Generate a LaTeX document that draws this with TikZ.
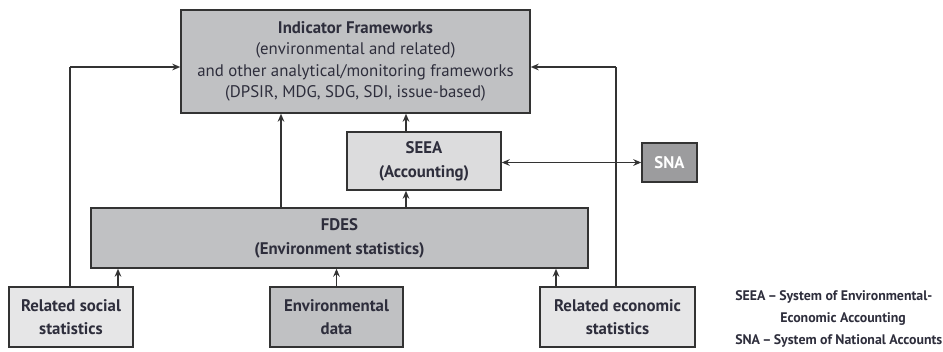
\documentclass[tikz,border=0pt]{standalone}
\usepackage{fontspec}
\setmainfont{PT Sans}
\usetikzlibrary{arrows.meta}
\definecolor{ink}{HTML}{2E2E3C}
\definecolor{edge}{HTML}{333333}
\definecolor{midgrey}{HTML}{C0C1C3}
\definecolor{lightgrey}{HTML}{DCDCDD}
\definecolor{palegrey}{HTML}{E6E6E7}
\definecolor{darkgrey}{HTML}{9C9C9E}
\tikzset{
  box/.style={draw=edge, line width=1.1pt, inner sep=0pt, text=ink, align=center,
    font=\fontsize{12.6}{16}\selectfont\bfseries},
  link/.style={draw=edge, line width=1pt, -{Stealth[length=6pt,width=5pt]}},
  plain/.style={draw=edge, line width=1pt},
  legend/.style={anchor=west, text=ink, inner sep=0pt, font=\fontsize{10.4}{12}\selectfont\bfseries},
}
\begin{document}
\begin{tikzpicture}[x=0.75pt,y=-0.75pt]
\useasboundingbox (0,0) rectangle (943,351);
% boxes
\node[box, fill=midgrey, minimum width=349*0.75pt, minimum height=103*0.75pt] (ind) at (355.5,61.5)
  {Indicator Frameworks\\
   {\mdseries (environmental and related)}\\
   {\mdseries and other analytical/monitoring frameworks}\\
   {\mdseries (DPSIR, MDG, SDG, SDI, issue-based)}};
\node[box, fill=lightgrey, minimum width=154*0.75pt, minimum height=58*0.75pt] (seea) at (424,161) {SEEA\\[2pt](Accounting)};
\node[box, fill=darkgrey, text=white, minimum width=55*0.75pt, minimum height=39*0.75pt] (sna) at (669.5,162.5) {SNA};
\node[box, fill=midgrey, minimum width=497*0.75pt, minimum height=60*0.75pt] (fdes) at (339.5,238) {FDES\\[2pt](Environment statistics)};
\node[box, fill=palegrey, minimum width=124*0.75pt, minimum height=60*0.75pt] (soc) at (71,317) {Related social\\[1pt]statistics};
\node[box, fill=midgrey, minimum width=133*0.75pt, minimum height=60*0.75pt] (env) at (336.5,317) {Environmental\\[1pt]data};
\node[box, fill=palegrey, minimum width=155*0.75pt, minimum height=60*0.75pt] (eco) at (617.5,317) {Related economic\\[1pt]statistics};
% connectors
\draw[link] (soc.north -| 118,0) -- (fdes.south -| 118,0);
\draw[link] (env.north) -- (fdes.south -| env.north);
\draw[link] (eco.north -| 556,0) -- (fdes.south -| 556,0);
\draw[link] (fdes.north -| 281,0) -- (ind.south -| 281,0);
\draw[link] (fdes.north -| 406,0) -- (seea.south -| 406,0);
\draw[link] (seea.north -| 406,0) -- (ind.south -| 406,0);
\draw[link, {Stealth[length=6pt,width=5pt]}-{Stealth[length=6pt,width=5pt]}] (seea.east |- sna.west) -- (sna.west);
\coordinate (lbend) at (70,67);
\coordinate (rbend) at (616,67);
\draw[plain] (soc.north -| lbend) -- (lbend);
\draw[link] (lbend) -- (ind.west |- lbend);
\draw[plain] (eco.north -| rbend) -- (rbend);
\draw[link] (rbend) -- (ind.east |- rbend);
% abbreviations
\node[legend] (l1) at (735,297) {SEEA\,–\,System of Environmental-};
\node[legend] (l2) at (780,319) {Economic Accounting};
\node[legend] (l3) at (735,341) {SNA\,–\,System of National Accounts};
\end{tikzpicture}
\end{document}
